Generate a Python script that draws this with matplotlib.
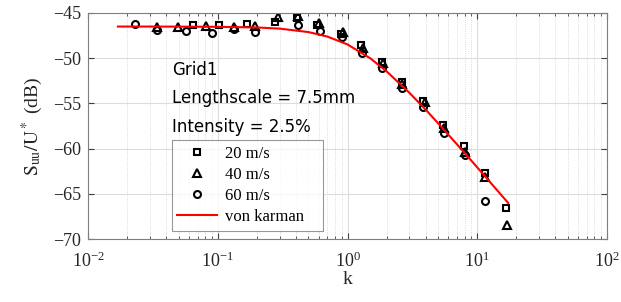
import numpy as np
import matplotlib
matplotlib.use("Agg")
import matplotlib.pyplot as plt
from matplotlib.ticker import LogLocator, NullFormatter, MultipleLocator

plt.rcParams['font.family'] = ['Liberation Serif', 'DejaVu Serif']
plt.rcParams['mathtext.fontset'] = 'stix'

# 20 m/s (squares)
k_20 = [0.0648, 0.1028, 0.167, 0.276, 0.408, 0.582, 0.891, 1.27, 1.83, 2.62,
        3.82, 5.47, 7.94, 11.5, 16.6]
s_20 = [-46.29, -46.36, -46.18, -45.96, -45.5, -46.33, -47.27, -48.57, -50.39, -52.6,
        -54.73, -57.39, -59.71, -62.73, -66.57]

# 40 m/s (triangles)
k_40 = [0.0339, 0.0497, 0.0812, 0.134, 0.195, 0.290, 0.413, 0.608, 0.923, 1.31,
        1.88, 2.63, 3.96, 5.59, 8.09, 11.5, 17.06]
s_40 = [-46.5, -46.55, -46.44, -46.6, -46.49, -45.48, -45.33, -46.16, -47.1, -48.9,
        -50.56, -52.85, -54.81, -57.72, -60.34, -63.17, -68.45]

# 60 m/s (circles)
k_60 = [0.0230, 0.0339, 0.0566, 0.0898, 0.133, 0.194, 0.418, 0.614, 0.902, 1.286,
        1.83, 2.64, 3.84, 5.59, 8.0, 11.5]
s_60 = [-46.22, -46.85, -47.0, -47.2, -46.75, -47.12, -46.33, -46.99, -47.65, -49.4,
        -51.12, -53.33, -55.43, -58.33, -60.71, -65.8]

# von karman curve
k_vk = [0.017, 0.03, 0.05, 0.1, 0.2, 0.3, 0.5, 0.7, 1.0, 1.5, 2, 3, 4, 5, 7, 10, 13, 17.3]
s_vk = [-46.5, -46.5, -46.51, -46.53, -46.6, -46.73, -47.11, -47.61, -48.48, -50.02,
        -51.45, -53.83, -55.69, -57.21, -59.55, -62.08, -63.96, -66.01]

fig = plt.figure(figsize=(6.21, 3.02), dpi=100)
ax = fig.add_axes([0.1417, 0.2086, 0.8358, 0.7484])

mk = dict(color='black', linestyle='none', markerfacecolor='none',
          markeredgewidth=1.5)
ax.plot(k_20, s_20, marker='s', markersize=4.6, label='20 m/s', **mk)
ax.plot(k_40, s_40, marker='^', markersize=5.6, label='40 m/s', **mk)
ax.plot(k_60, s_60, marker='o', markersize=5.0, label='60 m/s', **mk)
ax.plot(k_vk, s_vk, color='red', linewidth=1.5, label='von karman')

ax.set_xscale('log')
ax.set_xlim(1e-2, 1e2)
ax.set_ylim(-70, -45)
ax.yaxis.set_major_locator(MultipleLocator(5))
ax.xaxis.set_major_locator(LogLocator(base=10, numticks=10))
ax.xaxis.set_minor_locator(LogLocator(base=10, subs=np.arange(2, 10), numticks=20))
ax.xaxis.set_minor_formatter(NullFormatter())

ax.grid(True, which='major', color='#dcdcdc', linewidth=0.8, linestyle='-')
ax.grid(True, which='minor', axis='x', color='#d0d0d0', linewidth=0.6, linestyle=':')
ax.set_axisbelow(True)

ax.tick_params(which='both', direction='in', top=True, right=True, colors='#404040',
               labelcolor='#262626', labelsize=13)
ax.tick_params(which='major', length=4)
ax.tick_params(which='minor', length=2)
ax.tick_params(axis='x', which='major', pad=9)
ax.tick_params(axis='y', which='major', pad=5)
for sp in ax.spines.values():
    sp.set_color('#7f7f7f')
    sp.set_linewidth(0.8)

ax.set_xlabel('k', fontsize=14, color='#262626', labelpad=0)
ax.set_ylabel(r'$\mathrm{S_{uu}/U^*}$ (dB)', fontsize=14, color='#262626', labelpad=6)

txt = dict(fontsize=12, family=['DejaVu Sans'], color='black', transform=ax.transAxes)
ax.text(0.162, 0.726, 'Grid1', **txt)
ax.text(0.162, 0.603, 'Lengthscale = 7.5mm', **txt)
ax.text(0.162, 0.475, 'Intensity = 2.5%', **txt)

leg = ax.legend(loc='lower left', bbox_to_anchor=(0.161, 0.037, 0.291, 0.39),
                mode='expand', fontsize=12,
                frameon=True, fancybox=False, borderpad=0.35, labelspacing=0.3,
                handlelength=2.4, handletextpad=0.45, borderaxespad=0)
leg.get_frame().set_edgecolor('#7f7f7f')
leg.get_frame().set_linewidth(0.8)

fig.savefig('out.png', dpi=100)
